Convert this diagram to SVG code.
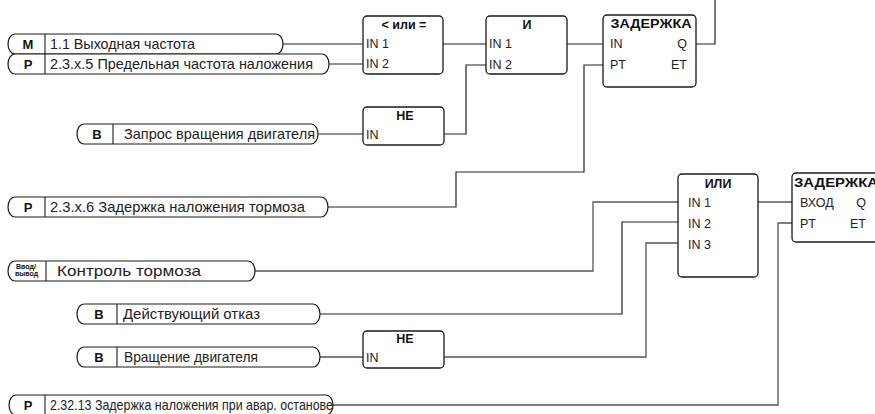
<svg xmlns="http://www.w3.org/2000/svg" width="875" height="414" viewBox="0 0 875 414">
<style>
.pill{fill:#fff;stroke:#1a1a1a;stroke-width:1.2}
.div{stroke:#1a1a1a;stroke-width:1.1}
.box{fill:#fff;stroke:#1a1a1a;stroke-width:1.3}
.tag{font-family:"Liberation Sans",Arial,sans-serif;font-size:13px;font-weight:bold;fill:#111;text-anchor:middle}
.lbl{font-family:"Liberation Sans",Arial,sans-serif;font-size:14.5px;fill:#222}
.pin{font-family:"Liberation Sans",Arial,sans-serif;font-size:12.5px;fill:#222}
.end{text-anchor:end}
.ttl{font-family:"Liberation Sans",Arial,sans-serif;font-size:12.5px;font-weight:bold;fill:#111;text-anchor:middle}
.ttl.st{text-anchor:start}
.io{font-family:"Liberation Sans",Arial,sans-serif;font-size:7px;font-weight:bold;fill:#111}
.c{fill:none;stroke:#222;stroke-width:1.2}
.g{fill:none;stroke:#555;stroke-width:1.3}
</style>
<rect width="875" height="414" fill="#fff"/>
<g id="connectors">
<path class="c" d="M283,44 H363"/>
<path class="c" d="M329,64 H363"/>
<path class="c" d="M443,44 H486"/>
<path class="c" d="M318,134 H363"/>
<path class="c" d="M444,134 H466 V65 H486"/>
<path class="c" d="M567,44 H603"/>
<path class="c" d="M696,44 H715 V0"/>
<path class="c" d="M328,207 H456 V172 H584 V65 H603"/>
<path class="g" d="M255,271 H593 V202 H678"/>
<path class="c" d="M320,314 H622 V222 H678"/>
<path class="g" d="M320,357 H363"/>
<path class="g" d="M444,357 H646 V243 H678"/>
<path class="g" d="M758,202 H792"/>
<path class="g" d="M333,405 H778 V223 H792"/>
</g>
<g id="in-m-11">
<path class="pill" d="M15,34 H276 A7 10 0 0 1 276,54 H15 A7 10 0 0 1 15,34 Z"/>
<line class="div" x1="45" y1="34" x2="45" y2="54"/>
<text class="tag" x="28" y="49">M</text>
<text class="lbl" x="50" y="49" textLength="145" lengthAdjust="spacingAndGlyphs">1.1 Выходная частота</text>
</g>
<g id="in-p-235">
<path class="pill" d="M15,54 H322 A7 10 0 0 1 322,74 H15 A7 10 0 0 1 15,54 Z"/>
<line class="div" x1="45" y1="54" x2="45" y2="74"/>
<text class="tag" x="28" y="69">P</text>
<text class="lbl" x="50" y="69" textLength="263" lengthAdjust="spacingAndGlyphs">2.3.x.5 Предельная частота наложения</text>
</g>
<g id="in-b-request">
<path class="pill" d="M84,124 H311 A7 10 0 0 1 311,144 H84 A7 10 0 0 1 84,124 Z"/>
<line class="div" x1="113" y1="124" x2="113" y2="144"/>
<text class="tag" x="97" y="139">B</text>
<text class="lbl" x="124" y="139" textLength="191" lengthAdjust="spacingAndGlyphs">Запрос вращения двигателя</text>
</g>
<g id="in-p-236">
<path class="pill" d="M15,197 H321 A7 10 0 0 1 321,217 H15 A7 10 0 0 1 15,197 Z"/>
<line class="div" x1="45" y1="197" x2="45" y2="217"/>
<text class="tag" x="28" y="212">P</text>
<text class="lbl" x="50" y="212" textLength="255" lengthAdjust="spacingAndGlyphs">2.3.x.6 Задержка наложения тормоза</text>
</g>
<g id="in-io-brake">
<path class="pill" d="M15,261 H248 A7 10 0 0 1 248,281 H15 A7 10 0 0 1 15,261 Z"/>
<line class="div" x1="46" y1="261" x2="46" y2="281"/>
<text class="io" x="16" y="269">Ввод/</text>
<text class="io" x="15" y="276">вывод</text>
<text class="lbl" x="57" y="276" textLength="144" lengthAdjust="spacingAndGlyphs">Контроль тормоза</text>
</g>
<g id="in-b-fault">
<path class="pill" d="M84,304 H313 A7 10 0 0 1 313,324 H84 A7 10 0 0 1 84,304 Z"/>
<line class="div" x1="117" y1="304" x2="117" y2="324"/>
<text class="tag" x="99" y="319">B</text>
<text class="lbl" x="123" y="319" textLength="137" lengthAdjust="spacingAndGlyphs">Действующий отказ</text>
</g>
<g id="in-b-rotation">
<path class="pill" d="M84,347 H313 A7 10 0 0 1 313,367 H84 A7 10 0 0 1 84,347 Z"/>
<line class="div" x1="117" y1="347" x2="117" y2="367"/>
<text class="tag" x="99" y="362">B</text>
<text class="lbl" x="124" y="362" textLength="134" lengthAdjust="spacingAndGlyphs">Вращение двигателя</text>
</g>
<g id="in-p-23213">
<path class="pill" d="M16,395 H326 A7 10 0 0 1 326,415 H16 A7 10 0 0 1 16,395 Z"/>
<line class="div" x1="45" y1="395" x2="45" y2="415"/>
<text class="tag" x="28" y="410">P</text>
<text class="lbl" x="50" y="410" textLength="283" lengthAdjust="spacingAndGlyphs">2.32.13 Задержка наложения при авар. останове</text>
</g>
<g id="cmp">
<rect class="box" x="363" y="16" width="80" height="58" rx="4"/>
<text class="ttl" x="404" y="29">&lt; или =</text>
<text class="pin" x="366" y="48">IN 1</text>
<text class="pin" x="366" y="68">IN 2</text>
</g>
<g id="and">
<rect class="box" x="486" y="16" width="81" height="58" rx="4"/>
<text class="ttl" x="527" y="29">И</text>
<text class="pin" x="489" y="48">IN 1</text>
<text class="pin" x="489" y="69">IN 2</text>
</g>
<g id="delay1">
<rect class="box" x="603" y="15" width="93" height="72" rx="4"/>
<text class="ttl" x="651" y="28" textLength="81" lengthAdjust="spacingAndGlyphs">ЗАДЕРЖКА</text>
<text class="pin" x="610" y="48">IN</text>
<text class="pin end" x="687" y="48">Q</text>
<text class="pin" x="610" y="69">PT</text>
<text class="pin end" x="687" y="69">ET</text>
</g>
<g id="not1">
<rect class="box" x="363" y="107" width="81" height="38" rx="4"/>
<text class="ttl" x="405" y="120">НЕ</text>
<text class="pin" x="366" y="139">IN</text>
</g>
<g id="or">
<rect class="box" x="678" y="174" width="80" height="103" rx="4"/>
<text class="ttl" x="718" y="188">ИЛИ</text>
<text class="pin" x="688" y="207">IN 1</text>
<text class="pin" x="688" y="228">IN 2</text>
<text class="pin" x="688" y="249">IN 3</text>
</g>
<g id="delay2">
<rect class="box" x="792" y="173" width="93" height="69" rx="4"/>
<text class="ttl st" x="794" y="187" textLength="84" lengthAdjust="spacingAndGlyphs">ЗАДЕРЖКА</text>
<text class="pin" x="800" y="207">ВХОД</text>
<text class="pin end" x="866" y="207">Q</text>
<text class="pin" x="800" y="228">PT</text>
<text class="pin end" x="866" y="228">ET</text>
</g>
<g id="not2">
<rect class="box" x="363" y="331" width="81" height="37" rx="4"/>
<text class="ttl" x="405" y="343">НЕ</text>
<text class="pin" x="366" y="362">IN</text>
</g>
</svg>
